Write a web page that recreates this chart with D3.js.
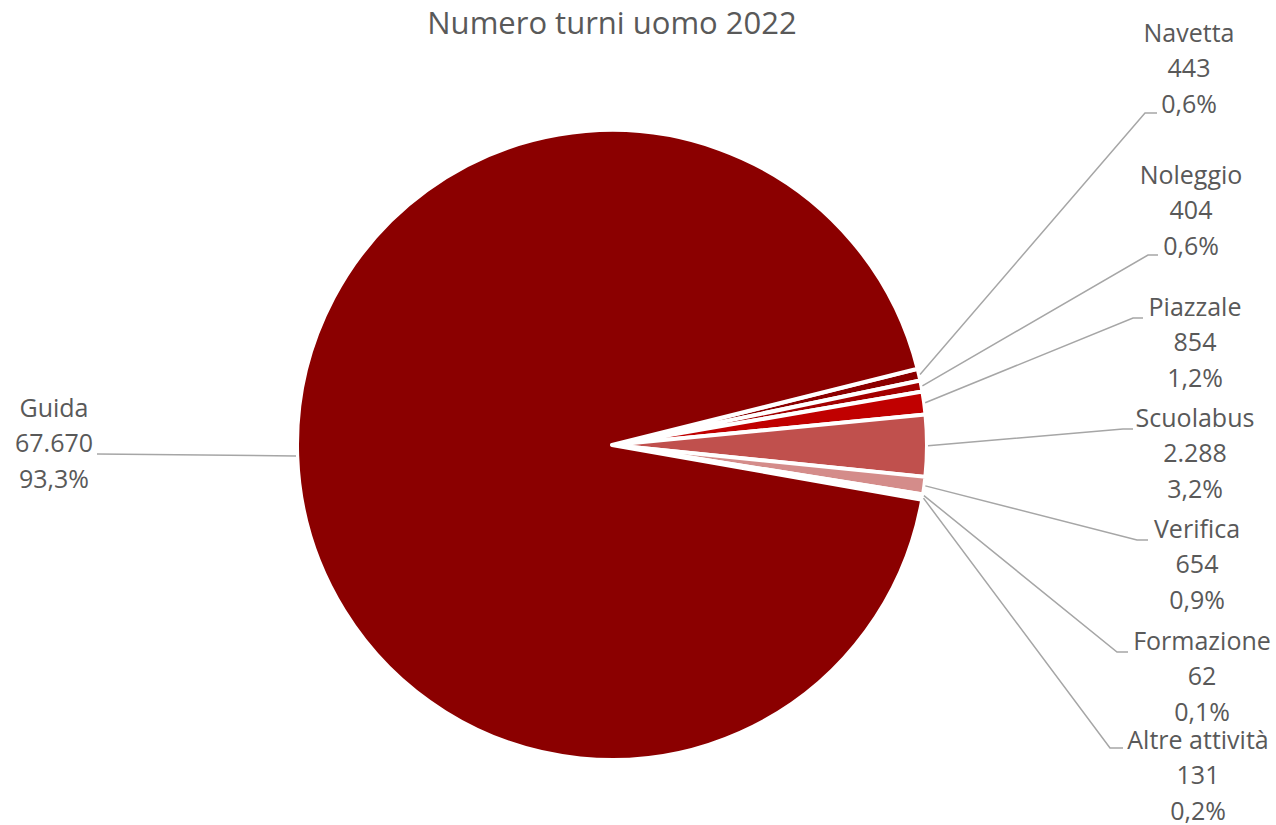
<!DOCTYPE html>
<html>
<head>
<meta charset="utf-8">
<script src="https://cdn.jsdelivr.net/npm/d3@7"></script>
<style>
  body { margin: 0; background: #fff; }
  text { font-family: "Open Sans", sans-serif; fill: #595959; }
</style>
</head>
<body>
<div id="chart"></div>
<script>
// data
const categories = ["Navetta", "Noleggio", "Piazzale", "Scuolabus", "Verifica", "Formazione", "Altre attività", "Guida"];
const values = [443, 404, 854, 2288, 654, 62, 131, 67670];
const percentLabels = ["0,6%", "0,6%", "1,2%", "3,2%", "0,9%", "0,1%", "0,2%", "93,3%"];
const colors = ["#8B0000", "#A30000", "#C00000", "#C0504D", "#D48C8A", "#E6B9B8", "#B00000", "#8B0000"];

// label layout (text centre x, first line y, elbow of leader line)
const labelX = [1189, 1191, 1195, 1195, 1197, 1202, 1198, 54];
const labelY = [35, 177, 309, 420, 531, 643, 742, 410];
const elbow = [[1145, 113, 1157], [1148, 255, 1158], [1133, 318, 1143], [1123, 429, 1133],
               [1137, 540, 1148], [1117, 652, 1128], [1110, 748, 1123], [296, 456, 97]];

const width = 1276, height = 825;
const cx = 612, cy = 445, radius = 315;

const svg = d3.select("#chart")
    .append("svg")
    .attr("width", width)
    .attr("height", height);

svg.append("text")
    .attr("x", cx)
    .attr("y", 26)
    .attr("text-anchor", "middle")
    .attr("dominant-baseline", "middle")
    .style("font-size", "31px")
    .text("Numero turni uomo 2022");

const data = categories.map((c, i) => ({ name: c, value: values[i], pct: percentLabels[i], i: i }));

const pie = d3.pie()
    .sort(null)
    .value(d => d.value)
    .startAngle(76 * Math.PI / 180)
    .endAngle(76 * Math.PI / 180 + 2 * Math.PI);

const arcs = pie(data);

const arc = d3.arc().innerRadius(0).outerRadius(radius);
const g = svg.append("g").attr("transform", `translate(${cx},${cy})`);

g.selectAll("path.slice")
    .data(arcs)
    .enter()
    .append("path")
    .attr("class", "slice")
    .attr("d", arc)
    .attr("fill", d => colors[d.data.i])
    .attr("stroke", "#fff")
    .attr("stroke-width", 4)
    .attr("stroke-linejoin", "round");

// leader lines
const edgeArc = d3.arc().innerRadius(radius + 1).outerRadius(radius + 1);
arcs.forEach(d => {
    const i = d.data.i;
    const p = edgeArc.centroid(d);
    let pts;
    if (i === 7) {
        pts = [[elbow[i][0], elbow[i][1]], [elbow[i][2], elbow[i][1] - 2]];
    } else {
        pts = [[cx + p[0], cy + p[1]], [elbow[i][0], elbow[i][1]], [elbow[i][2], elbow[i][1]]];
    }
    svg.append("path")
        .attr("d", d3.line()(pts))
        .attr("fill", "none")
        .attr("stroke", "#A6A6A6")
        .attr("stroke-width", 1.5);
});

// labels
arcs.forEach(d => {
    const i = d.data.i;
    const t = svg.append("text")
        .attr("text-anchor", "middle")
        .style("font-size", "25px");
    [d.data.name, d3.format(",")(d.data.value).replace(/,/g, "."), d.data.pct].forEach((s, k) => {
        t.append("tspan")
            .attr("x", labelX[i])
            .attr("y", labelY[i] + k * 35.5)
            .attr("dominant-baseline", "middle")
            .text(s);
    });
});
</script>
</body>
</html>
